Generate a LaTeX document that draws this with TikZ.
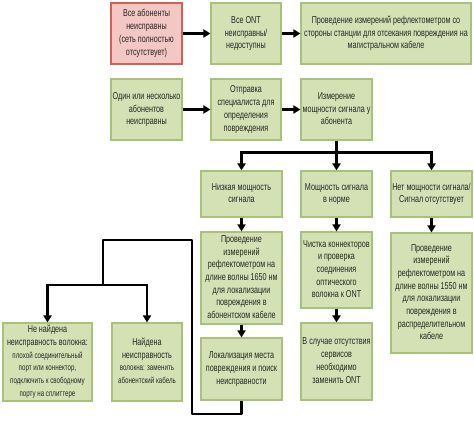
\documentclass[tikz,border=0pt]{standalone}
\usepackage{fontspec}
\usepackage{graphicx}
\setmainfont{Liberation Sans}
\usetikzlibrary{arrows.meta}
\definecolor{gfill}{HTML}{D4E1B4}
\definecolor{gdraw}{HTML}{A8C27A}
\definecolor{rfill}{HTML}{F3C8C4}
\definecolor{rdraw}{HTML}{D0605A}
\definecolor{txt}{HTML}{262626}
\newcommand\tx[2][1]{\scalebox{0.72}[1]{\fontsize{10}{12.7}\selectfont\begin{tabular}{@{}c@{}}#2\end{tabular}}}
\newcommand\sm[1]{{\fontsize{8.6}{12.3}\selectfont #1}}
\begin{document}
\begin{tikzpicture}[x=1pt,y=-1pt,
  box/.style={draw=gdraw,fill=gfill,line width=1.1pt,inner sep=0pt,align=center,
    text=txt,minimum height=#1},
  box/.default=61pt,
  wa/.style={minimum width=71pt},
  wb/.style={minimum width=81pt},
  con/.style={draw=black,line width=2.2pt},
  arr/.style={con,-{Triangle[length=7pt,width=8pt]}}]
\useasboundingbox (0,0) rectangle (474,428);
% row 1
\node[box,wa,draw=rdraw,fill=rfill] (b1) at (146.5,33.5) {\tx{Все абоненты\\неисправны\\(сеть полностью\\отсутствует)}};
\node[box,minimum width=70pt] (b2) at (246,33.5) {\tx{Все ONT\\неисправны/\\недоступны}};
\node[box,minimum width=170pt] (b3) at (386,33.5) {\tx{Проведение измерений рефлектометром со\\стороны станции для отсекания повреждения на\\магистральном кабеле}};
% row 2
\node[box,wa] (b4) at (146.5,109.5) {\tx{Один или несколько\\абонентов\\неисправны}};
\node[box,minimum width=70pt] (b5) at (246,109.5) {\tx{Отправка\\специалиста для\\определения\\повреждения}};
\node[box,wa] (b6) at (336.5,109.5) {\tx{Измерение\\мощности сигнала у\\абонента}};
% row 3
\node[box=46pt,wb] (b7) at (241.5,194) {\tx{Низкая мощность\\сигнала}};
\node[box=46pt,wa] (b8) at (336.5,194) {\tx{Мощность сигнала\\в норме}};
\node[box=46pt,wb] (b9) at (431.5,194) {\tx{Нет мощности сигнала/\\Сигнал отсутствует}};
% row 4
\node[box=92pt,wb] (b10) at (241.5,278) {\tx{Проведение\\измерений\\рефлектометром на\\длине волны 1650 нм\\для локализации\\повреждения в\\абонентском кабеле}};
\node[box=76pt,wa] (b11) at (336.5,270) {\tx{Чистка коннекторов\\и проверка\\соединения\\оптического\\волокна к ONT}};
\node[box=120pt,wb] (b12) at (431.5,293) {\tx{Проведение\\измерений\\рефлектометром на\\длине волны 1550 нм\\для локализации\\повреждения в\\распределительном\\кабеле}};
% row 5
\node[box=62pt,wb] (b13) at (241.5,369) {\tx{Локализация места\\повреждения и поиск\\неисправности}};
\node[box=77pt,wa] (b14) at (336.5,361.5) {\tx{В случае отсутствия\\сервисов\\необходимо\\заменить ONT}};
\node[box=78pt,minimum width=89pt] (b15) at (47.5,362) {\tx{Не найдена\\неисправность волокна:\\\sm{плохой соединительный}\\\sm{порт или коннектор,}\\\sm{подключить к свободному}\\\sm{порту на сплиттере}}};
\node[box=78pt,minimum width=70pt] (b16) at (147,362) {\tx{Найдена\\неисправность\\\sm{волокна: заменить}\\\sm{абонентский кабель}}};
% connectors
\draw[arr] (b1) -- (b2);
\draw[arr] (b2) -- (b3);
\draw[arr] (b4) -- (b5);
\draw[arr] (b5) -- (b6);
\draw[con] (b6.south) -- ++(0,12) coordinate (j1);
\draw[arr] (j1) -- (b8.north);
\draw[arr] (j1) -| (b7.north);
\draw[arr] (j1) -| (b9.north);
\draw[arr] (b7) -- (b10);
\draw[arr] (b8) -- (b11);
\draw[arr] (b9) -- (b12);
\draw[arr] (b10) -- (b13);
\draw[arr] (b11) -- (b14);
\coordinate (l1) at (192,414);
\coordinate (l2) at (103,240);
\draw[con,line join=round] (b13.south) |- (l1) |- (l2) -- ++(0,45) coordinate (j2);
\draw[arr] (j2) -| (b15.north);
\draw[arr] (j2) -| (b16.north);
\end{tikzpicture}
\end{document}
